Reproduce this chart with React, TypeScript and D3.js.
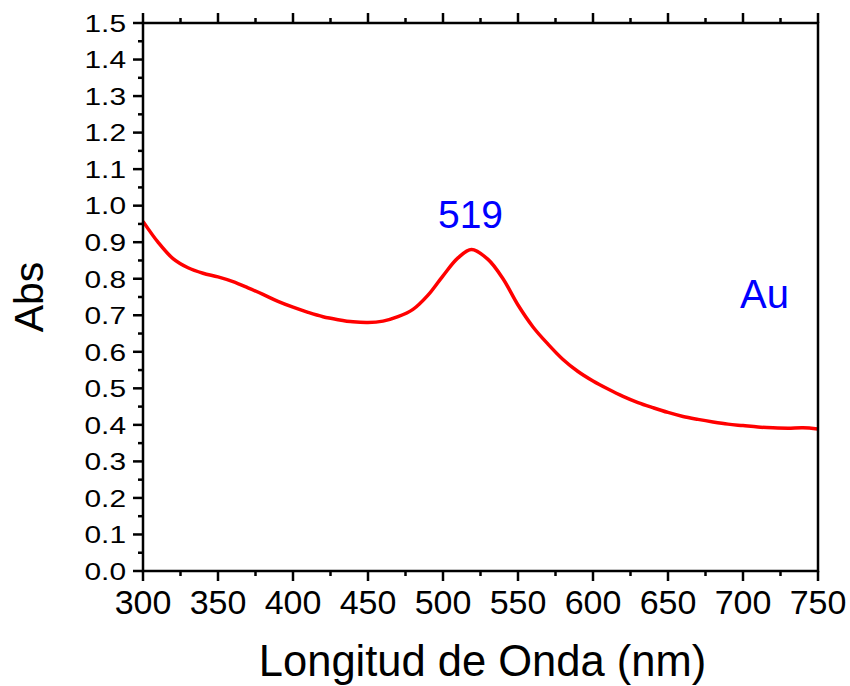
import React from "react";
import * as d3 from "d3";

const wavelengths = [300, 310, 320, 330, 340, 350, 360, 370, 380, 390, 400, 410, 420, 430, 440, 450, 460, 470, 480, 490, 500, 510, 519, 530, 540, 550, 560, 570, 580, 590, 600, 610, 620, 630, 640, 650, 660, 670, 680, 690, 700, 710, 720, 730, 740, 750];
const absorbance = [0.957, 0.9, 0.855, 0.83, 0.815, 0.805, 0.792, 0.775, 0.757, 0.738, 0.722, 0.708, 0.696, 0.688, 0.682, 0.68, 0.684, 0.696, 0.716, 0.755, 0.808, 0.857, 0.88, 0.853, 0.8, 0.728, 0.668, 0.621, 0.579, 0.546, 0.52, 0.498, 0.478, 0.461, 0.447, 0.434, 0.423, 0.415, 0.408, 0.402, 0.398, 0.394, 0.392, 0.391, 0.392, 0.389];

const xMajorTicks = [300, 350, 400, 450, 500, 550, 600, 650, 700, 750];
const xMinorTicks = [325, 375, 425, 475, 525, 575, 625, 675, 725];
const yMajorTicks = [0, 0.1, 0.2, 0.3, 0.4, 0.5, 0.6, 0.7, 0.8, 0.9, 1.0, 1.1, 1.2, 1.3, 1.4, 1.5];
const yMinorTicks = [0.05, 0.15, 0.25, 0.35, 0.45, 0.55, 0.65, 0.75, 0.85, 0.95, 1.05, 1.15, 1.25, 1.35, 1.45];

const xLabel = "Longitud de Onda (nm)";
const yLabel = "Abs";
const peakLabel = "519";
const peakWavelength = 519;
const sampleLabel = "Au";

export default function App() {
  const W = 850, H = 686;
  const L = 143, R = 818, T = 23, B = 571;
  const x = d3.scaleLinear().domain([300, 750]).range([L, R]);
  const y = d3.scaleLinear().domain([0, 1.5]).range([B, T]);
  const pts = wavelengths.map((w, i) => [w, absorbance[i]] as [number, number]);
  const line = d3.line<[number, number]>().x(d => x(d[0])).y(d => y(d[1])).curve(d3.curveCatmullRom.alpha(0.5));
  const font = "'Liberation Sans', Arial, sans-serif";
  const sw = 2.5;
  const maj = 10, min = 5;
  return (
    <svg width={W} height={H} style={{ position: "absolute", left: 0, top: 0, background: "#fff" }} fontFamily={font}>
      <rect x={0} y={0} width={W} height={H} fill="#fff" />
      <path d={line(pts) || ""} fill="none" stroke="#ff0000" strokeWidth={3.5} strokeLinejoin="round" />
      <rect x={L} y={T} width={R - L} height={B - T} fill="none" stroke="#000" strokeWidth={sw} />
      {xMajorTicks.map(t => (
        <g key={"xb" + t}>
          <line x1={x(t)} x2={x(t)} y1={B} y2={B + maj} stroke="#000" strokeWidth={sw} />
          <line x1={x(t)} x2={x(t)} y1={T} y2={T - maj} stroke="#000" strokeWidth={sw} />
          <text x={x(t)} y={614} textAnchor="middle" fontSize={34} fill="#000">{t}</text>
        </g>
      ))}
      {xMinorTicks.map(t => (
        <g key={"xm" + t}>
          <line x1={x(t)} x2={x(t)} y1={B} y2={B + min} stroke="#000" strokeWidth={sw} />
          <line x1={x(t)} x2={x(t)} y1={T} y2={T - min} stroke="#000" strokeWidth={sw} />
        </g>
      ))}
      {yMajorTicks.map(t => (
        <g key={"yl" + t}>
          <line x1={L} x2={L - maj} y1={y(t)} y2={y(t)} stroke="#000" strokeWidth={sw} />
          <text transform={`translate(126,${y(t) + 8.8}) scale(1.22,1)`} textAnchor="end" fontSize={24.5} fill="#000">{t.toFixed(1)}</text>
        </g>
      ))}
      {yMinorTicks.map(t => (
        <line key={"ym" + t} x1={L} x2={L - min} y1={y(t)} y2={y(t)} stroke="#000" strokeWidth={sw} />
      ))}
      <text x={(L + R) / 2 + 2} y={676} textAnchor="middle" fontSize={43.5} fill="#000">{xLabel}</text>
      <text transform={`translate(43,297) rotate(-90)`} textAnchor="middle" fontSize={41} fill="#000">{yLabel}</text>
      <text x={x(peakWavelength) - 1} y={228} textAnchor="middle" fontSize={39} fill="#0000ff">{peakLabel}</text>
      <text x={740} y={308} fontSize={40} fill="#0000ff">{sampleLabel}</text>
    </svg>
  );
}
